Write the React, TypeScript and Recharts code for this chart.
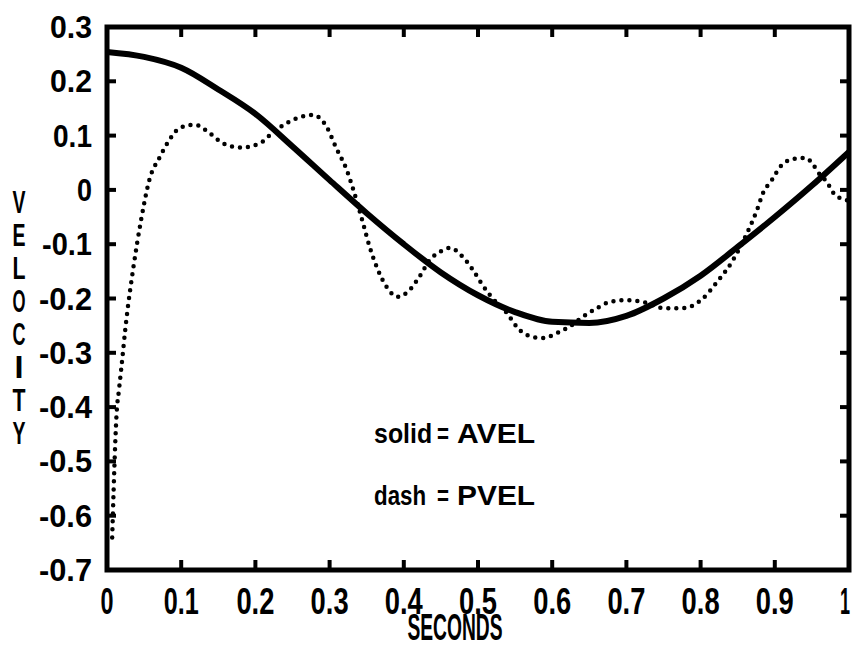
import { ComposedChart, Line, Scatter, XAxis, YAxis, ReferenceDot, ReferenceArea, Label } from "recharts"

// AVEL (solid) read every 0.05 s
const aTime = [0, 0.05, 0.1, 0.15, 0.2, 0.25, 0.3, 0.35, 0.4, 0.45, 0.5, 0.55, 0.6, 0.65, 0.7, 0.75, 0.8, 0.85, 0.9, 0.95, 1.0]
const aVel = [0.254, 0.245, 0.225, 0.185, 0.14, 0.08, 0.018, -0.043, -0.1, -0.152, -0.194, -0.225, -0.243, -0.245, -0.232, -0.2, -0.158, -0.105, -0.05, 0.008, 0.07]

// PVEL (dotted)
const pTime = [0.007, 0.009, 0.011, 0.013, 0.016, 0.019, 0.026, 0.035, 0.046, 0.057, 0.071, 0.084, 0.098, 0.118, 0.138, 0.156, 0.18, 0.206, 0.223, 0.242, 0.26, 0.278, 0.296, 0.309, 0.323, 0.332, 0.345, 0.354, 0.365, 0.377, 0.392, 0.405, 0.421, 0.435, 0.449, 0.462, 0.48, 0.493, 0.506, 0.518, 0.539, 0.556, 0.574, 0.587, 0.606, 0.623, 0.641, 0.66, 0.678, 0.7, 0.721, 0.752, 0.772, 0.786, 0.803, 0.822, 0.842, 0.86, 0.876, 0.884, 0.896, 0.907, 0.92, 0.941, 0.95, 0.958, 0.97, 0.981, 1.0]
const pVel = [-0.64, -0.55, -0.47, -0.41, -0.37, -0.332, -0.24, -0.148, -0.055, 0.018, 0.06, 0.092, 0.114, 0.12, 0.105, 0.086, 0.078, 0.086, 0.105, 0.123, 0.134, 0.138, 0.116, 0.077, 0.037, 0.0, -0.061, -0.105, -0.147, -0.179, -0.197, -0.188, -0.16, -0.129, -0.114, -0.107, -0.124, -0.147, -0.175, -0.197, -0.227, -0.258, -0.271, -0.273, -0.264, -0.252, -0.234, -0.218, -0.206, -0.203, -0.206, -0.218, -0.218, -0.215, -0.2, -0.17, -0.133, -0.087, -0.037, -0.006, 0.018, 0.042, 0.055, 0.059, 0.05, 0.033, 0.015, -0.009, -0.02]

const xTicks = [0, 0.1, 0.2, 0.3, 0.4, 0.5, 0.6, 0.7, 0.8, 0.9, 1]
const xTickLabels = ['0', '0.1', '0.2', '0.3', '0.4', '0.5', '0.6', '0.7', '0.8', '0.9', '1']
const yTicks = [-0.7, -0.6, -0.5, -0.4, -0.3, -0.2, -0.1, 0, 0.1, 0.2, 0.3]
const yTickLabels = ['-0.7', '-0.6', '-0.5', '-0.4', '-0.3', '-0.2', '-0.1', '0', '0.1', '0.2', '0.3']

const X_MIN = 0, X_MAX = 1, Y_MIN = -0.7, Y_MAX = 0.3

const aData = aTime.map((t, i) => ({ t, v: aVel[i] }))
const pData = pTime.map((t, i) => ({ t, v: pVel[i] }))

// inner tick marks on the four sides of the box
const innerX = xTicks.slice(1, -1)
const innerY = yTicks.slice(1, -1)
const bottomMarks = innerX.map((t) => ({ t, v: Y_MIN }))
const topMarks = innerX.map((t) => ({ t, v: Y_MAX }))
const leftMarks = innerY.map((v) => ({ t: X_MIN, v }))
const rightMarks = innerY.map((v) => ({ t: X_MAX, v }))

const FONT = "'Liberation Sans', Arial, sans-serif"

const labelOf = (ticks: number[], labels: string[], v: number) => {
    const i = ticks.findIndex((t) => Math.abs(t - v) < 1e-9)
    return i >= 0 ? labels[i] : ''
}

// rough width of the narrow plotter glyphs
const textWidth = (s: string, digit: number) =>
    s.split('').reduce((w, c) => w + (c === '.' ? 12 : c === '-' ? 11 : c === '1' ? digit - 3 : digit), 0)

const FitText = ({ x, y, w, size, anchor = 'start', children }: any) => (
    <text x={x} y={y} fontFamily={FONT} fontWeight="bold" fontSize={size} fill="#000"
        textAnchor={anchor} textLength={w} lengthAdjust="spacingAndGlyphs">
        {children}
    </text>
)

const BottomTick = (props: any) => {
    const { x, y, payload } = props
    const s = labelOf(xTicks, xTickLabels, payload.value)
    const w = textWidth(s, 13)
    const cx = Math.min(x, 850 - w / 2)
    return <FitText x={cx} y={y + 44} w={w} size={37} anchor="middle">{s}</FitText>
}

const LeftTick = (props: any) => {
    const { x, y, payload } = props
    const s = labelOf(yTicks, yTickLabels, payload.value)
    return <FitText x={x - 15} y={y + 11} w={textWidth(s, 15)} size={31} anchor="end">{s}</FitText>
}

const VelocityLabel = (props: any) => {
    const { x, y, height } = props.viewBox
    const letters = 'VELOCITY'.split('')
    const first = y + height / 2 - 86
    return (
        <g>
            {letters.map((c, i) => (
                <FitText key={i} x={x + 19} y={first + i * 33} w={c === 'I' ? 9 : 13} size={32} anchor="middle">{c}</FitText>
            ))}
        </g>
    )
}

const SecondsLabel = (props: any) => {
    const { x, width, y, height } = props.viewBox
    return <FitText x={x + width / 2 - 23} y={y + height - 7} w={95} size={37} anchor="middle">SECONDS</FitText>
}

const KeyLabel = (word: string, wordW: number, name: string) => (props: any) => {
    const { x, y } = props.viewBox
    return (
        <g>
            <FitText x={x} y={y} w={wordW} size={28}>{word}</FitText>
            <FitText x={x + 63} y={y} w={12} size={28}>=</FitText>
            <FitText x={x + 83} y={y} w={78} size={28}>{name}</FitText>
        </g>
    )
}

// tick mark shapes, pointing into the box
const mark = (dx: number, dy: number, w: number) => (p: any) => (
    <path d={`M${p.cx},${p.cy}L${p.cx + dx},${p.cy + dy}`} stroke="#000" strokeWidth={w} fill="none" />
)

const App = () => {
    return (
        <div style={{ position: 'absolute', left: 0, top: 0, background: '#fff' }}>
            <ComposedChart width={852} height={647} margin={{ top: 27, right: 3, left: 0, bottom: 0 }}>
                <XAxis
                    dataKey="t"
                    type="number"
                    domain={[X_MIN, X_MAX]}
                    ticks={xTicks}
                    interval={0}
                    height={77}
                    axisLine={false}
                    tickLine={false}
                    tickSize={0}
                    tickMargin={0}
                    tick={BottomTick}
                >
                    <Label content={SecondsLabel} />
                </XAxis>
                <YAxis
                    dataKey="v"
                    type="number"
                    domain={[Y_MIN, Y_MAX]}
                    ticks={yTicks}
                    interval={0}
                    width={107}
                    axisLine={false}
                    tickLine={false}
                    tickSize={0}
                    tickMargin={0}
                    tick={LeftTick}
                >
                    <Label content={VelocityLabel} />
                </YAxis>

                {/* frame */}
                <ReferenceArea x1={X_MIN} x2={X_MAX} y1={Y_MIN} y2={Y_MAX} fill="none" fillOpacity={0}
                    stroke="#000" strokeWidth={5} strokeOpacity={1} ifOverflow="visible" />

                <Scatter data={bottomMarks} dataKey="v" shape={mark(0, -10, 4)} isAnimationActive={false} legendType="none" />
                <Scatter data={topMarks} dataKey="v" shape={mark(0, 10, 4)} isAnimationActive={false} legendType="none" />
                <Scatter data={leftMarks} dataKey="v" shape={mark(9, 0, 4)} isAnimationActive={false} legendType="none" />
                <Scatter data={rightMarks} dataKey="v" shape={mark(-9, 0, 4)} isAnimationActive={false} legendType="none" />

                <Line
                    data={pData}
                    dataKey="v"
                    type="monotone"
                    stroke="#000"
                    strokeWidth={4.5}
                    strokeDasharray="0 8"
                    strokeLinecap="round"
                    dot={false}
                    activeDot={false}
                    isAnimationActive={false}
                />
                <Line
                    data={aData}
                    dataKey="v"
                    type="monotone"
                    stroke="#000"
                    strokeWidth={6}
                    dot={false}
                    activeDot={false}
                    isAnimationActive={false}
                />
                <ReferenceDot x={0.36} y={-0.466} r={0} fill="none" stroke="none" label={KeyLabel('solid', 58, 'AVEL')} />
                <ReferenceDot x={0.36} y={-0.58} r={0} fill="none" stroke="none" label={KeyLabel('dash', 52, 'PVEL')} />
            </ComposedChart>
        </div>
    )
}

export default App
